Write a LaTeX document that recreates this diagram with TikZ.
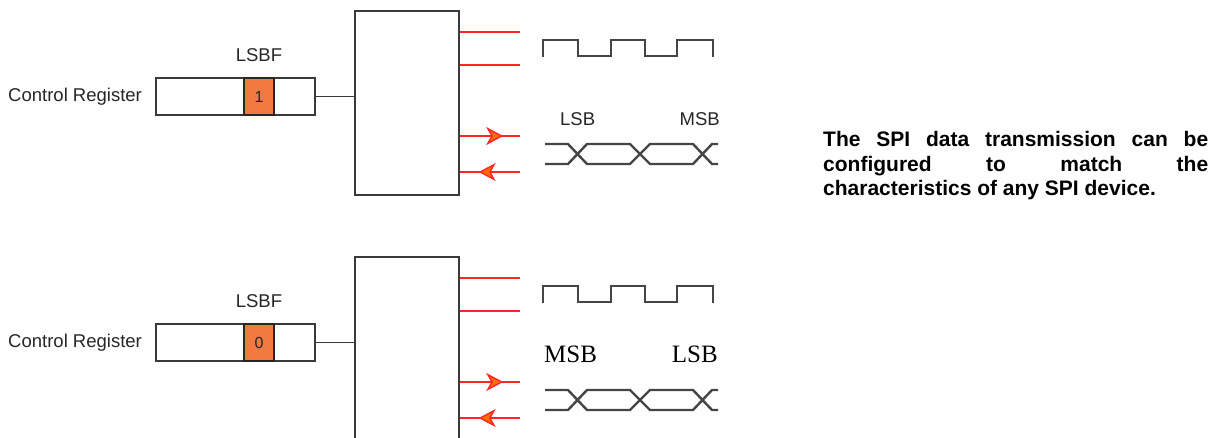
\documentclass[tikz,border=0pt]{standalone}
\usepackage{fontspec}
\setmainfont{Liberation Sans}
\newfontfamily\timesfont{Liberation Serif}
\usetikzlibrary{arrows.meta,positioning,decorations.markings}
\definecolor{spiInk}{HTML}{3A3A3A}
\definecolor{spiWave}{HTML}{454545}
\definecolor{spiRed}{HTML}{FF2626}
\definecolor{spiOrange}{HTML}{F27A40}

\begin{document}
\begin{tikzpicture}[
  x=1pt, y=-1pt,
  every node/.style={inner sep=0pt, text=black!85},
  lbl/.style={font=\fontsize{18.5}{22}\selectfont},
  lblserif/.style={font=\timesfont\fontsize{25}{28}\selectfont, text=black},
  regbox/.style={draw=spiInk, line width=1.8pt, minimum width=159pt, minimum height=37pt},
  bitcell/.style={draw=black!85, fill=spiOrange, line width=1.8pt, minimum width=30pt, minimum height=37pt, font=\fontsize{16}{18}\selectfont},
  ctrl/.style={draw=spiInk, line width=2.2pt, minimum width=104pt, minimum height=184pt},
  wire/.style={draw=spiInk, line width=1.8pt},
  sig/.style={draw=spiRed, line width=2.2pt},
  wave/.style={draw=spiWave, line width=2.4pt},
  midarrow/.style={postaction={decorate}, decoration={markings, mark=at position #1 with {\arrow{Stealth[length=17pt,width=18pt,inset=5pt,fill=orange!85!red,color=spiRed,line width=1.4pt]}}}}
]
  \useasboundingbox (0,0) rectangle (1212,437);

  % both panels share the same register, block and waveforms
  \foreach \dy/\bit/\n in {0/1/a, 246/0/b} {
    \begin{scope}[shift={(0,\dy)}]
      \node[regbox] (reg\n) at (235.5,96.5) {};
      \node[bitcell] (bit\n) at (259,96.5) {\bit};
      \node[lbl, above=15.5pt of bit\n] (lsbf\n) {LSBF};
      \node[lbl, left=13pt of reg\n] (name\n) {Control Register};
      \node[ctrl] (ctrl\n) at (407,103) {};
      \draw[wire] (reg\n.east) -- (reg\n.east -| ctrl\n.west);

      \coordinate (sclk\n) at (520,32);
      \coordinate (ss\n) at (520,65);
      \coordinate (mosi\n) at (520,136);
      \coordinate (miso\n) at (520,172);
      \draw[sig] (ctrl\n.east |- sclk\n) -- (sclk\n);
      \draw[sig] (ctrl\n.east |- ss\n) -- (ss\n);
      \draw[sig, midarrow=0.72] (ctrl\n.east |- mosi\n) -- (mosi\n);
      \draw[sig, midarrow=0.69] (miso\n) -- (ctrl\n.east |- miso\n);

      \draw[wave] (543,57) |- (578,40) |- (611,56) |- (645,40) |- (677,56) |- (713,40) -- (713,57);
      \draw[wave] (545,144) -- (568,144) -- (587,164) -- (630,164) -- (650,144) -- (693,144) -- (712,164) -- (718,164);
      \draw[wave] (545,164) -- (568,164) -- (587,144) -- (630,144) -- (650,164) -- (693,164) -- (712,144) -- (718,144);
    \end{scope}
  }

  \node[lbl, anchor=base west] (firsta) at (560,125) {LSB};
  \node[lbl, anchor=base east] (lasta) at (720,125) {MSB};
  \node[lblserif, anchor=base west] (firstb) at (544,362.5) {MSB};
  \node[lblserif, anchor=base east] (lastb) at (718,362.5) {LSB};

  \node[anchor=west, text width=385pt, align=justify, text=black, font=\bfseries\fontsize{21}{24.5}\selectfont] (note) at (823,166)
    {The SPI data transmission can be\linebreak configured to match the\linebreak characteristics of any SPI device.};
\end{tikzpicture}
\end{document}
